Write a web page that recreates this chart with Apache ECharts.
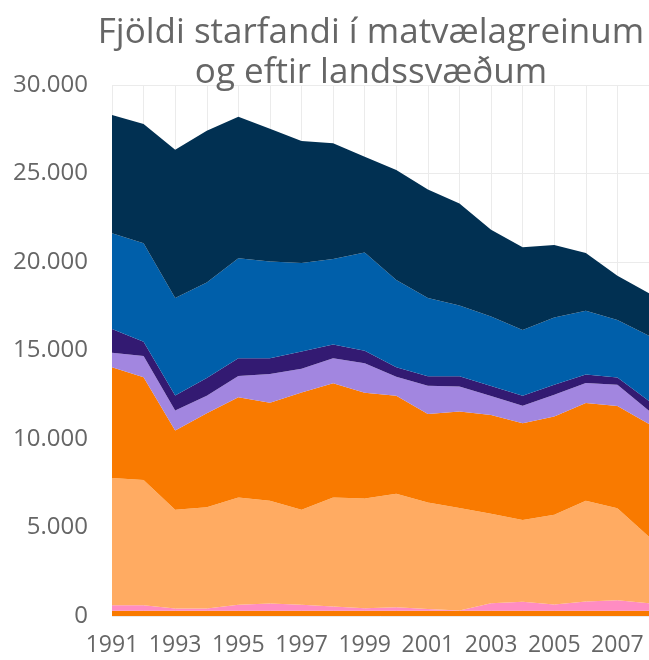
<!DOCTYPE html>
<html>
<head>
<meta charset="utf-8">
<script src="https://cdn.jsdelivr.net/npm/echarts@6/dist/echarts.min.js"></script>
<style>
  html, body { margin: 0; padding: 0; background: #fff; }
  #chart { width: 649px; height: 660px; }
</style>
</head>
<body>
<div id="chart"></div>
<script>
// ár á x-ás
const years = ['1991','1992','1993','1994','1995','1996','1997','1998','1999',
  '2000','2001','2002','2003','2004','2005','2006','2007','2008'];

// raðir, neðst fyrst (staflað)
const bottomStrip = [290,290,290,290,290,290,290,290,290,290,290,290,290,290,290,290,290,290];
const pinkVals = [320,320,130,130,340,415,340,245,150,210,110,20,430,510,360,530,600,430];
const lightOrangeVals = [7180,7080,5580,5730,6060,5800,5370,6160,6200,6400,6010,5790,5050,4630,5070,5690,5200,3760];
const orangeVals = [6270,5800,4480,5310,5670,5550,6630,6460,5980,5550,5000,5460,5590,5460,5550,5520,5780,6370];
const lightPurpleVals = [810,1200,1130,980,1200,1620,1340,1410,1660,1070,1600,1410,1070,990,1230,1130,1190,750];
const darkPurpleVals = [1340,810,850,1000,1000,890,980,770,700,530,530,570,570,570,570,490,410,550];
const blueVals = [5420,5560,5500,5400,5650,5460,5000,4830,5550,4930,4430,4000,3920,3710,3800,3600,3260,3690];
const navyVals = [6680,6740,8380,8570,8000,7500,6890,6550,5410,6220,6120,5760,4900,4670,4090,3260,2500,2400];

const yTicks = { min: 0, max: 30000, step: 5000 };

const chart = echarts.init(document.getElementById('chart'));

const fmt = v => String(v).replace(/\B(?=(\d{3})+(?!\d))/g, '.');

function area(name, data, color) {
  return {
    name: name,
    type: 'line',
    stack: 'total',
    data: data,
    symbol: 'none',
    lineStyle: { width: 0 },
    areaStyle: { color: color, opacity: 1 },
    itemStyle: { color: color }
  };
}

chart.setOption({
  animation: false,
  textStyle: { fontFamily: 'Open Sans' },
  title: {
    text: 'Fjöldi starfandi í matvælagreinum\nog eftir landssvæðum',
    left: 366,
    top: 8,
    textAlign: 'center',
    textStyle: {
      fontFamily: 'Open Sans',
      fontSize: 35,
      fontWeight: 'normal',
      color: '#666666',
      lineHeight: 40
    }
  },
  grid: { left: 112, top: 85, width: 545, bottom: 44, containLabel: false },
  xAxis: {
    type: 'category',
    data: years,
    boundaryGap: false,
    axisLine: { show: false },
    axisTick: { show: false },
    axisLabel: { interval: 1, color: '#666666', fontSize: 23, margin: 18 },
    splitLine: { show: true, interval: 0, lineStyle: { color: '#ebebeb', width: 1 } }
  },
  yAxis: {
    type: 'value',
    min: yTicks.min,
    max: yTicks.max,
    interval: yTicks.step,
    axisLine: { show: false },
    axisTick: { show: false },
    axisLabel: { color: '#666666', fontSize: 24, margin: 24, formatter: fmt },
    splitLine: { lineStyle: { color: '#ebebeb', width: 1 } }
  },
  series: [
    area('Röð 1', bottomStrip, '#F97A00'),
    area('Röð 2', pinkVals, '#FF8CC2'),
    area('Röð 3', lightOrangeVals, '#FFAB62'),
    area('Röð 4', orangeVals, '#F97A00'),
    area('Röð 5', lightPurpleVals, '#A286E0'),
    area('Röð 6', darkPurpleVals, '#331A72'),
    area('Röð 7', blueVals, '#005FAA'),
    area('Röð 8', navyVals, '#013052')
  ]
});
</script>
</body>
</html>
